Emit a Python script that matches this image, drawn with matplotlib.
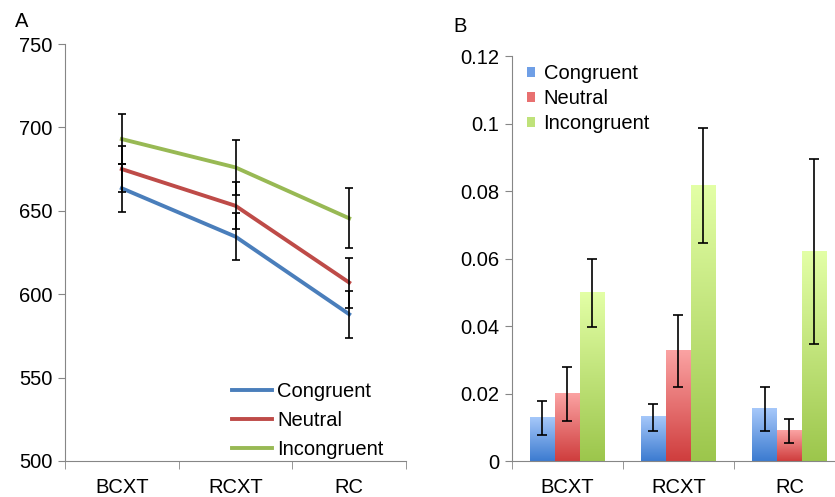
import numpy as np
import matplotlib
matplotlib.use("Agg")
import matplotlib.pyplot as plt
from matplotlib.colors import LinearSegmentedColormap
from matplotlib.patches import Patch

plt.rcParams['font.family'] = ['Liberation Sans', 'DejaVu Sans']

cats = ['BCXT', 'RCXT', 'RC']
conds = ['Congruent', 'Neutral', 'Incongruent']

# panel A: reaction times
rt_mean = {
    'Congruent': [663.5, 634.5, 588],
    'Neutral': [675, 653, 607],
    'Incongruent': [693, 676, 645.5],
}
rt_err = {
    'Congruent': [14.5, 14, 14],
    'Neutral': [14, 14, 15],
    'Incongruent': [15, 16.5, 18],
}

# panel B: error rates
er_mean = {
    'Congruent': [0.0128, 0.0131, 0.0155],
    'Neutral': [0.0199, 0.0326, 0.0090],
    'Incongruent': [0.0499, 0.0817, 0.0621],
}
er_err = {
    'Congruent': [0.0050, 0.0040, 0.0065],
    'Neutral': [0.0080, 0.0106, 0.0036],
    'Incongruent': [0.0100, 0.0171, 0.0273],
}

line_cols = {'Congruent': '#4a7ebb', 'Neutral': '#be4b48', 'Incongruent': '#98b954'}
grad_cols = {
    'Congruent': ('#a6c8fa', '#3c7bd0'),
    'Neutral': ('#fba3a3', '#cf3d3d'),
    'Incongruent': ('#e3ffa6', '#9cc64c'),
}
mid_cols = {'Congruent': '#6f9fe6', 'Neutral': '#e87070', 'Incongruent': '#bfe27a'}

fs = 14.5
spine_col = '#868686'

fig = plt.figure(figsize=(8.35, 4.97), dpi=100)

# ---------- panel A ----------
ax1 = fig.add_axes([65 / 835, 36 / 497, 341 / 835, 417 / 497])
x = np.arange(len(cats))
for c in conds:
    ax1.plot(x, rt_mean[c], color=line_cols[c], lw=2.8, label=c, zorder=3)
for c in conds:
    ax1.errorbar(x, rt_mean[c], yerr=rt_err[c], fmt='none', ecolor='black',
                 elinewidth=1.2, capsize=2.7, capthick=1.2, zorder=4)
ax1.set_xlim(-0.5, 2.5)
ax1.set_ylim(500, 750)
ax1.set_yticks(np.arange(500, 751, 50))
ax1.set_xticks(x)
ax1.set_xticklabels(cats)
ax1.set_xticks([-0.5, 0.5, 1.5, 2.5], minor=True)
ax1.tick_params(axis='x', which='major', length=0, pad=12, labelsize=fs)
ax1.tick_params(axis='x', which='minor', length=6, color=spine_col)
ax1.tick_params(axis='y', length=5, color=spine_col, labelsize=fs, pad=4)
for s in ['top', 'right']:
    ax1.spines[s].set_visible(False)
for s in ['left', 'bottom']:
    ax1.spines[s].set_color(spine_col)
ax1.legend(loc='lower left', frameon=False, fontsize=fs, handlelength=2.0,
           handletextpad=0.25, labelspacing=0.5, borderpad=0, borderaxespad=0,
           bbox_to_anchor=(232 / 835, 38 / 497), bbox_transform=fig.transFigure)
fig.text(15 / 835, 1 - 27 / 497, 'A', fontsize=fs)

# ---------- panel B ----------
ax2 = fig.add_axes([511.7 / 835, 35.7 / 497, 333.3 / 835, 405.3 / 497])
w = 0.224
offs = [-w, 0, w]
for c, o in zip(conds, offs):
    bars = ax2.bar(x + o, er_mean[c], width=w, color='none', edgecolor='none')
    cmap = LinearSegmentedColormap.from_list(c, [grad_cols[c][1], grad_cols[c][0]])
    grad = np.linspace(0, 1, 256).reshape(-1, 1)
    for b in bars:
        x0, y0 = b.get_x(), b.get_y()
        ax2.imshow(grad, cmap=cmap, origin='lower', aspect='auto',
                   extent=(x0, x0 + b.get_width(), y0, y0 + b.get_height()),
                   zorder=2)
    ax2.errorbar(x + o, er_mean[c], yerr=er_err[c], fmt='none', ecolor='black',
                 elinewidth=1.2, capsize=3.6, capthick=1.2, zorder=4)
ax2.set_xlim(-0.5, 2.5)
ax2.set_ylim(0, 0.12)
ax2.set_yticks([0, 0.02, 0.04, 0.06, 0.08, 0.1, 0.12])
ax2.set_yticklabels(['0', '0.02', '0.04', '0.06', '0.08', '0.1', '0.12'])
ax2.set_xticks(x)
ax2.set_xticklabels(cats)
ax2.set_xticks([-0.5, 0.5, 1.5, 2.5], minor=True)
ax2.tick_params(axis='x', which='major', length=0, pad=12, labelsize=fs)
ax2.tick_params(axis='x', which='minor', length=6, color=spine_col)
ax2.tick_params(axis='y', length=5, color=spine_col, labelsize=fs, pad=4)
for s in ['top', 'right']:
    ax2.spines[s].set_visible(False)
for s in ['left', 'bottom']:
    ax2.spines[s].set_color(spine_col)
handles = [Patch(facecolor=mid_cols[c], edgecolor='none') for c in conds]
ax2.legend(handles, conds, loc='upper left', frameon=False, fontsize=fs,
           handlelength=0.42, handleheight=0.42, handletextpad=0.4,
           labelspacing=0.3, borderpad=0, borderaxespad=0,
           bbox_to_anchor=(527 / 835, 1 - 64 / 497), bbox_transform=fig.transFigure)
fig.text(453 / 835, 1 - 32 / 497, 'B', fontsize=fs)

fig.savefig('out.png', dpi=100)
